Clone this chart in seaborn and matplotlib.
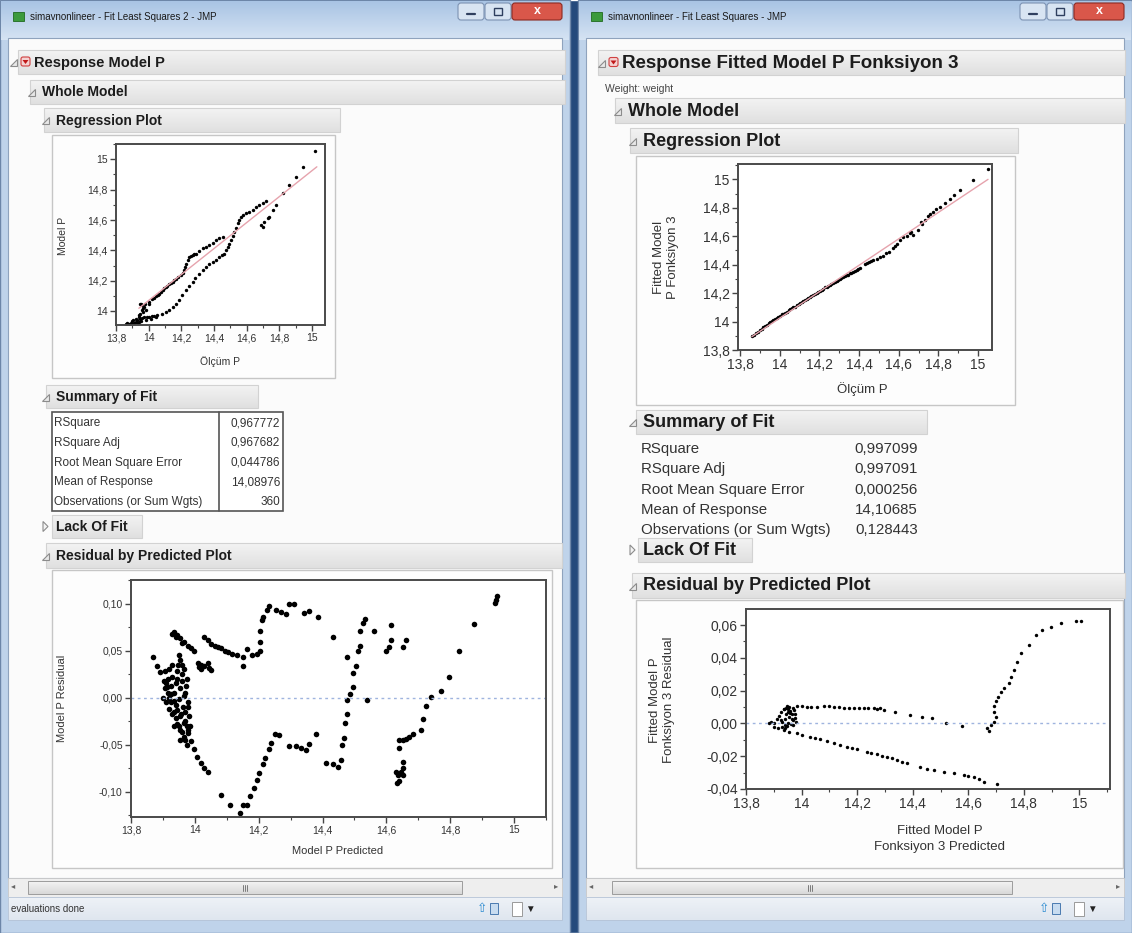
import numpy as np
import seaborn as sns
import matplotlib.pyplot as plt
from matplotlib.colors import to_rgb
from matplotlib.patches import Rectangle, Polygon, FancyBboxPatch
from matplotlib.ticker import MultipleLocator, FuncFormatter

W, H = 1132, 933

# ---- left window: Regression Plot (Model P vs Ölçüm P)
reg1_x = [13.861, 13.892, 13.922, 13.953, 13.984, 14.014, 14.045, 13.943, 13.963, 13.973,
          13.953, 13.984, 13.922, 13.902, 13.943, 14.004,
          13.870, 13.880, 13.910, 13.930, 13.950, 13.960, 13.970, 13.990, 14.000, 14.020,
          14.030, 13.940, 13.950, 13.960, 13.965, 13.945, 13.935, 13.900,
          14.004, 14.045, 14.086, 14.127, 14.167, 14.198, 14.229, 14.249, 14.290, 14.331,
          14.371, 14.412, 14.453, 14.065, 14.106, 14.147, 14.218, 14.269, 14.310, 14.351,
          14.392, 14.433,
          13.960, 13.975, 14.020, 14.035, 14.055, 14.075, 14.095, 14.115, 14.135, 14.155,
          14.178, 14.210, 14.220, 14.240, 14.260, 14.280,
          14.106, 14.147, 14.188, 14.229, 14.269, 14.310, 14.351, 14.392, 14.433, 14.463,
          14.484, 14.504, 14.524, 14.545, 14.565, 14.596, 14.637, 14.678, 14.718,
          14.050, 14.080, 14.125, 14.165, 14.205, 14.245, 14.285, 14.330, 14.370, 14.410,
          14.450, 14.475, 14.495, 14.515, 14.535, 14.555, 14.580, 14.615, 14.655, 14.700,
          14.688, 14.708, 14.739, 14.759, 14.780, 14.698, 14.729,
          14.820, 14.861, 14.902, 14.943, 15.020]
reg1_y = [13.914, 13.923, 13.930, 13.936, 13.945, 13.952, 13.963, 13.963, 13.996, 14.029,
          14.051, 14.007, 13.952, 13.941, 13.930, 14.051,
          13.920, 13.915, 13.925, 13.940, 13.950, 13.955, 13.960, 13.960, 13.965, 13.967,
          13.970, 13.975, 13.985, 14.010, 14.020, 14.045, 13.920, 13.935,
          14.062, 14.101, 14.138, 14.178, 14.215, 14.237, 14.314, 14.358, 14.380, 14.413,
          14.435, 14.468, 14.486, 14.116, 14.160, 14.193, 14.270, 14.369, 14.398, 14.424,
          14.446, 14.479,
          14.040, 14.050, 14.080, 14.090, 14.110, 14.125, 14.150, 14.168, 14.185, 14.205,
          14.225, 14.250, 14.290, 14.335, 14.365, 14.375,
          13.996, 14.029, 14.073, 14.138, 14.193, 14.248, 14.292, 14.325, 14.358, 14.380,
          14.424, 14.468, 14.523, 14.578, 14.618, 14.644, 14.666, 14.699, 14.727,
          13.975, 13.985, 14.010, 14.050, 14.105, 14.165, 14.220, 14.270, 14.310, 14.340,
          14.370, 14.400, 14.445, 14.495, 14.550, 14.600, 14.632, 14.655, 14.683, 14.715,
          14.567, 14.589, 14.622, 14.666, 14.699, 14.556, 14.611,
          14.776, 14.831, 14.886, 14.952, 15.051]
fit1_x = [13.94, 15.03]
fit1_y = [14.02, 14.95]

# ---- left window: Residual by Predicted
res1_pred = [13.870, 13.883, 13.892, 13.902, 13.913, 13.924, 13.934, 13.945, 13.955, 13.966,
             13.977, 13.987, 13.998, 14.008, 14.019, 14.030, 14.040,
             13.934, 13.945, 13.955, 13.966, 13.977, 13.987, 13.998, 13.930, 13.940, 13.960,
             13.905, 13.915, 13.920, 13.925, 13.930, 13.935, 13.940, 13.942, 13.945, 13.948,
             13.950, 13.952, 13.955, 13.958, 13.960, 13.962, 13.965, 13.968, 13.970, 13.972,
             13.975, 13.978, 13.980, 13.982, 13.935, 13.925, 13.915, 13.945, 13.955, 13.965,
             13.900, 13.910, 13.920, 13.930, 13.940, 13.950, 13.960, 13.970, 13.975, 13.960,
             13.970, 13.975, 13.980, 13.985, 13.930, 13.950, 13.960, 13.945, 13.935, 13.920,
             13.910, 13.905, 13.955, 13.965,
             14.009, 14.019, 14.030, 14.040, 14.045, 14.050, 14.020, 14.014,
             14.030, 14.040, 14.051, 14.062, 14.072, 14.083, 14.093, 14.104, 14.115, 14.131,
             14.152, 14.152, 14.162, 14.178, 14.194, 14.205, 14.205, 14.205, 14.210, 14.215,
             14.226, 14.231, 14.253, 14.269, 14.285, 14.295, 14.311, 14.343, 14.359, 14.385,
             14.433,
             14.083, 14.109, 14.141, 14.152, 14.162, 14.173, 14.184, 14.194, 14.202, 14.212,
             14.221, 14.231, 14.240, 14.250, 14.265, 14.295, 14.316, 14.332, 14.348, 14.359,
             14.378, 14.412, 14.433, 14.449, 14.459, 14.461, 14.468, 14.470, 14.477, 14.477,
             14.486, 14.495, 14.495, 14.505, 14.511, 14.516, 14.477, 14.518, 14.527, 14.534,
             14.539, 14.560, 14.598, 14.608, 14.616, 14.616, 14.651, 14.662,
             14.630, 14.635, 14.645, 14.651, 14.641, 14.633, 14.651, 14.651, 14.640, 14.640,
             14.651, 14.662, 14.672, 14.683,
             14.707, 14.714, 14.725, 14.741, 14.771, 14.797, 14.826, 14.874, 14.941, 14.945,
             14.943]
res1_resid = [0.043, 0.034, 0.027, 0.018, 0.011, 0.004, -0.004, -0.013, -0.020, -0.027,
              -0.038, -0.046, -0.055, -0.063, -0.070, -0.075, -0.079,
              0.070, 0.066, 0.063, 0.059, 0.055, 0.053, 0.050, 0.068, 0.064, 0.058,
              0.028, 0.020, 0.030, 0.012, 0.022, 0.005, 0.015, -0.008, 0.028, 0.035,
              -0.002, 0.040, 0.010, -0.018, 0.025, -0.010, 0.002, -0.025, -0.015, 0.012,
              -0.030, -0.005, -0.035, -0.020, -0.015, -0.005, 0.005, -0.028, -0.035, -0.042,
              0.000, -0.005, -0.012, -0.018, -0.022, -0.030, -0.037, -0.045, -0.050, 0.018,
              0.005, 0.020, -0.010, -0.030, 0.035, 0.045, 0.035, 0.020, -0.030, 0.000,
              0.015, 0.010, -0.045, 0.030,
              0.037, 0.035, 0.034, 0.037, 0.031, 0.029, 0.030, 0.032,
              0.064, 0.061, 0.057, 0.055, 0.054, 0.053, 0.050, 0.048, 0.046, 0.045,
              0.034, 0.043, 0.052, 0.045, 0.046, 0.050, 0.059, 0.071, 0.082, 0.086,
              0.093, 0.097, 0.093, 0.091, 0.089, 0.099, 0.099, 0.090, 0.092, 0.086,
              0.064,
              -0.104, -0.114, -0.123, -0.114, -0.114, -0.105, -0.096, -0.088, -0.080, -0.071,
              -0.064, -0.055, -0.048, -0.039, -0.040, -0.051, -0.052, -0.054, -0.056, -0.049,
              -0.039, -0.070, -0.071, -0.074, -0.066, -0.050, -0.043, -0.027, -0.018, -0.003,
              0.004, 0.011, 0.026, 0.034, 0.050, 0.055, 0.043, 0.071, 0.079, 0.083,
              -0.003, 0.071, 0.050, 0.054, 0.061, 0.077, 0.054, 0.061,
              -0.079, -0.082, -0.079, -0.082, -0.089, -0.091, -0.068, -0.075, -0.054, -0.045,
              -0.045, -0.044, -0.042, -0.039,
              -0.034, -0.023, -0.009, 0.001, 0.007, 0.022, 0.050, 0.078, 0.101, 0.108,
              0.104]

# ---- right window: Regression Plot (Fitted Model P Fonksiyon 3 vs Ölçüm P)
reg2_x = [13.859, 13.880, 13.901, 13.918, 13.934, 13.951, 13.968, 13.985, 14.001, 14.018,
          14.035, 14.052, 14.069, 14.085, 14.102, 14.119, 14.136, 14.152, 14.169, 14.186,
          14.203, 14.220, 14.236, 14.253, 14.270, 14.287, 14.304, 14.320, 14.337, 14.354,
          14.371, 14.388, 14.404, 14.429, 14.450, 14.471, 14.505, 14.538, 14.572, 14.589,
          14.606, 14.622, 14.656, 14.673, 14.698, 14.715, 14.731, 14.748, 14.773, 14.807,
          14.832, 14.857, 14.879, 14.908, 14.972, 15.050,
          13.870, 13.890, 13.910, 13.925, 13.945, 13.960, 13.975, 13.990, 14.010, 14.025,
          14.045, 14.060, 14.075, 14.095, 14.110, 14.130, 14.145, 14.160, 14.180, 14.195,
          14.215, 14.230, 14.245, 14.260, 14.280, 14.295, 14.310, 14.330, 14.345, 14.360,
          14.380, 14.395, 14.440, 14.460, 14.490, 14.520, 14.550, 14.580, 14.640, 14.660,
          14.710, 14.760, 14.790]
reg2_y = [13.898, 13.920, 13.941, 13.960, 13.976, 13.994, 14.011, 14.027, 14.041, 14.056,
          14.070, 14.085, 14.100, 14.117, 14.133, 14.146, 14.159, 14.173, 14.187, 14.201,
          14.215, 14.231, 14.245, 14.259, 14.273, 14.286, 14.299, 14.312, 14.325, 14.338,
          14.351, 14.362, 14.374, 14.402, 14.416, 14.433, 14.452, 14.480, 14.515, 14.545,
          14.573, 14.592, 14.620, 14.609, 14.644, 14.686, 14.714, 14.742, 14.773, 14.808,
          14.836, 14.859, 14.890, 14.925, 14.995, 15.070,
          13.905, 13.930, 13.950, 13.970, 13.990, 14.005, 14.020, 14.035, 14.050, 14.060,
          14.078, 14.093, 14.105, 14.125, 14.140, 14.155, 14.166, 14.180, 14.195, 14.210,
          14.225, 14.240, 14.252, 14.265, 14.280, 14.293, 14.305, 14.320, 14.330, 14.345,
          14.356, 14.370, 14.410, 14.425, 14.440, 14.460, 14.490, 14.530, 14.600, 14.630,
          14.700, 14.755, 14.790]
fit2_x = [13.86, 15.05]
fit2_y = [13.894, 15.00]

# ---- right window: Residual by Predicted
res2_pred = [13.882, 13.890, 13.900, 13.912, 13.920, 13.926, 13.930, 13.936, 13.940, 13.945,
             13.948, 13.952, 13.955, 13.958, 13.962, 13.965, 13.968, 13.972, 13.975, 13.930,
             13.940, 13.925,
             13.935, 13.945, 13.955, 13.960, 13.970, 13.965, 13.950, 13.940, 13.975, 13.980,
             13.970, 13.950,
             13.948, 13.984, 14.020, 14.056, 14.080, 14.116, 14.152, 14.188, 14.224, 14.260,
             14.284, 14.296, 14.338, 14.392, 14.434, 14.470, 14.518, 14.578,
             14.000, 14.035, 14.100, 14.135, 14.170, 14.205, 14.240, 14.270,
             13.900, 13.936, 13.984, 14.032, 14.068, 14.116, 14.164, 14.200, 14.236, 14.272,
             14.308, 14.344, 14.380, 14.428, 14.476, 14.512, 14.548, 14.584, 14.620, 14.656,
             14.704,
             13.915, 13.955, 14.000, 14.050, 14.090, 14.140, 14.180, 14.250, 14.290, 14.325,
             14.360, 14.450, 14.600, 14.640,
             14.668, 14.674, 14.680, 14.692, 14.698, 14.692, 14.692, 14.698, 14.706, 14.718,
             14.730, 14.746, 14.755, 14.764, 14.774, 14.790, 14.818, 14.845, 14.867, 14.896,
             14.932, 14.986, 15.004]
res2_resid = [0.0004, 0.0010, 0.0004, 0.0025, 0.0045, 0.0070, 0.0010, 0.0085, 0.0030, 0.0060,
              -0.0015, 0.0090, 0.0040, 0.0075, -0.0005, 0.0055, 0.0020, 0.0080, 0.0035, -0.0020,
              -0.0030, 0.0020,
              0.0090, 0.0095, 0.0100, 0.0065, 0.0095, 0.0025, 0.0005, -0.0010, 0.0060, 0.0010,
              -0.0010, 0.0070,
              0.0106, 0.0106, 0.0098, 0.0102, 0.0108, 0.0102, 0.0096, 0.0092, 0.0092, 0.0092,
              0.0092, 0.0082, 0.0071, 0.0051, 0.0037, 0.0031, 0.0004, -0.0016,
              0.0104, 0.0100, 0.0105, 0.0099, 0.0094, 0.0092, 0.0093, 0.0090,
              -0.0020, -0.0040, -0.0061, -0.0081, -0.0097, -0.0122, -0.0142, -0.0158, -0.0176, -0.0189,
              -0.0203, -0.0223, -0.0243, -0.0264, -0.0284, -0.0294, -0.0304, -0.0315, -0.0329, -0.0355,
              -0.0372,
              -0.0030, -0.0050, -0.0068, -0.0088, -0.0108, -0.0132, -0.0150, -0.0180, -0.0196, -0.0213,
              -0.0233, -0.0275, -0.0320, -0.0340,
              -0.0030, -0.0044, -0.0010, 0.0010, 0.0041, 0.0071, 0.0106, 0.0137, 0.0163, 0.0190,
              0.0218, 0.0248, 0.0285, 0.0326, 0.0374, 0.0427, 0.0478, 0.0539, 0.0570, 0.0590,
              0.0615, 0.0625, 0.0625]

summary_labels = ['RSquare', 'RSquare Adj', 'Root Mean Square Error', 'Mean of Response',
                  'Observations (or Sum Wgts)']
summary1_values = ['0,967772', '0,967682', '0,044786', '14,08976', '360']
summary2_values = ['0,997099', '0,997091', '0,000256', '14,10685', '0,128443']

sns.set_style('white')
plt.rcParams['font.family'] = ['Liberation Sans', 'DejaVu Sans']

fig = plt.figure(figsize=(W / 100, H / 100), dpi=100)
bg = fig.add_axes([0, 0, 1, 1])
bg.axis('off')


def box(x0, y0, x1, y1, fc, ec='none', lw=1, z=2):
    bg.add_patch(Rectangle((x0, y0), x1 - x0, y1 - y0, fc=fc, ec=ec, lw=lw, zorder=z))


def grad(x0, y0, x1, y1, c0, c1, z=1):
    t = np.linspace(0, 1, 32)[:, None, None]
    img = np.array(to_rgb(c0)) * (1 - t) + np.array(to_rgb(c1)) * t
    bg.imshow(img, extent=(x0, x1, y1, y0), aspect='auto', zorder=z, interpolation='bilinear')


def header(x0, y0, x1, y1, text, fs, tx, opened=True, red=False):
    grad(x0, y0, x1, y1, '#f3f3f3', '#e0e0e0', z=3)
    box(x0, y0, x1, y1, 'none', '#d2d2d2', 0.8, z=4)
    m = (y0 + y1) / 2
    tri = tx - 14 if not red else tx - 24
    if opened:
        bg.add_patch(Polygon([(tri + 7, m - 3), (tri + 7, m + 4), (tri, m + 4)], closed=True,
                             fc='#e8e8e8', ec='#8c8c8c', lw=0.8, zorder=5))
    else:
        bg.add_patch(Polygon([(tri + 1, m - 5), (tri + 1, m + 5), (tri + 6, m)], closed=True,
                             fc='#f4f4f4', ec='#8c8c8c', lw=0.8, zorder=5))
    if red:
        bg.add_patch(FancyBboxPatch((tx - 13, m - 5), 9, 9, boxstyle='round,pad=0,rounding_size=2',
                                    fc='#f4d2d2', ec='#d04040', lw=0.8, zorder=5))
        bg.add_patch(Polygon([(tx - 11.5, m - 2), (tx - 5.5, m - 2), (tx - 8.5, m + 2)],
                             closed=True, fc='#c01818', ec='none', zorder=6))
    bg.text(tx, m + 0.5, text, fontsize=fs, fontweight='bold', color='#1c1c1c',
            va='center', ha='left', zorder=6)


def window(x0, x1, title):
    box(x0, 0, x1, H, '#bfd3ea', '#6d86a8', 1.0, z=1)
    grad(x0 + 1, 1, x1 - 1, 40, '#a9c4e4', '#d5e3f3', z=1.5)
    box(x0 + 8, 38, x1 - 8, 878, '#fbfbfb', '#8fa3bd', 0.8, z=2)
    bg.add_patch(Rectangle((x0 + 13, 12), 11, 9, fc='#3c9a3c', ec='#1f6a1f', lw=0.6, zorder=3))
    bg.text(x0 + 30, 17, title, fontsize=7, color='#1a1a1a', va='center', zorder=3)
    bx = x1 - 112
    for i, w in enumerate([27, 27]):
        bg.add_patch(FancyBboxPatch((bx + i * 27, 3), w - 1, 17, boxstyle='round,pad=0,rounding_size=3',
                                    fc='#d8e4f2', ec='#7d93b3', lw=0.8, zorder=3))
    bg.plot([bx + 9, bx + 17], [14, 14], color='#2f3f5f', lw=1.6, zorder=4)
    bg.add_patch(Rectangle((bx + 36, 8), 8, 7, fc='none', ec='#2f3f5f', lw=1.0, zorder=4))
    bg.add_patch(FancyBboxPatch((bx + 54, 3), 50, 17, boxstyle='round,pad=0,rounding_size=3',
                                fc='#d9574a', ec='#8c2a22', lw=0.8, zorder=3))
    bg.text(bx + 79, 11.5, 'x', fontsize=9, fontweight='bold', color='white', ha='center',
            va='center', zorder=4)
    # scrollbar
    box(x0 + 8, 878, x1 - 8, 897, '#eeeeee', '#c9c9c9', 0.6, z=2)
    bg.text(x0 + 13, 887, '◂', fontsize=6, color='#666666', va='center', ha='center', zorder=3)
    bg.text(x1 - 14, 887, '▸', fontsize=6, color='#666666', va='center', ha='center', zorder=3)
    # status bar
    grad(x0 + 8, 897, x1 - 8, 920, '#eef2f7', '#dfe6ef', z=2)
    box(x0 + 8, 897, x1 - 8, 920, 'none', '#b5c3d6', 0.6, z=3)
    ix = x1 - 88
    bg.text(ix, 909, '⇧', fontsize=9, color='#2a8ad0', va='center', ha='center', zorder=4)
    bg.add_patch(Rectangle((ix + 8, 903), 8, 11, fc='#c8dcf0', ec='#4a7ab0', lw=0.7, zorder=4))
    bg.add_patch(Rectangle((ix + 30, 902), 10, 14, fc='white', ec='#9a9a9a', lw=0.7, zorder=4))
    bg.text(ix + 48, 909, '▼', fontsize=7, color='#222222', va='center', ha='center', zorder=4)


def thumb(x0, x1, gx):
    grad(x0, 881, x1, 894, '#f4f4f4', '#d9d9d9', z=3)
    box(x0, 881, x1, 894, 'none', '#9c9c9c', 0.7, z=4)
    for d in (-2, 0, 2):
        bg.plot([gx + d, gx + d], [884.5, 890.5], color='#7a7a7a', lw=0.7, zorder=5)


def panel(x0, y0, x1, y1):
    box(x0, y0, x1, y1, '#fdfdfd', '#c6c6c6', 1.0, z=3)


def pix_ax(x0, y0, x1, y1):
    return fig.add_axes([x0 / W, 1 - y1 / H, (x1 - x0) / W, (y1 - y0) / H])


def comma(fmt):
    if fmt == 'g':
        return FuncFormatter(lambda v, p: f'{round(v, 3):g}'.replace('.', ','))
    return FuncFormatter(lambda v, p: f'{v:{fmt}}'.replace('.', ',').replace('-0,00', '0,00'))


def style_ax(ax, xlim, ylim, xmaj, xmin, ymaj, ymin, yfmt, fs):
    ax.set_xlim(*xlim)
    ax.set_ylim(*ylim)
    ax.xaxis.set_major_locator(MultipleLocator(xmaj))
    ax.xaxis.set_minor_locator(MultipleLocator(xmin))
    ax.yaxis.set_major_locator(MultipleLocator(ymaj))
    ax.yaxis.set_minor_locator(MultipleLocator(ymin))
    ax.xaxis.set_major_formatter(comma('g'))
    ax.yaxis.set_major_formatter(comma(yfmt))
    ax.tick_params(which='major', direction='out', length=4, width=1, color='#444444',
                   labelsize=fs, labelcolor='#333333', pad=2, bottom=True, left=True)
    ax.tick_params(which='minor', direction='out', length=2.5, width=0.8, color='#444444',
                   bottom=True, left=True)
    for s in ax.spines.values():
        s.set_color('#4a4a4a')
        s.set_linewidth(1.4)
    ax.set_xlabel('')
    ax.set_ylabel('')


bg.add_patch(Rectangle((0, 0), W, H, fc='#254a7c', zorder=0))
window(0, 570, 'simavnonlineer - Fit Least Squares 2 - JMP')
window(578, W, 'simavnonlineer - Fit Least Squares - JMP')
thumb(28, 462, 245)
thumb(612, 1012, 810)
bg.text(11, 909, 'evaluations done', fontsize=7, color='#333333', va='center', zorder=4)

# ---- left window report
header(18, 50, 565, 74, 'Response Model P', 10.5, 34, red=True)
header(30, 80, 565, 104, 'Whole Model', 10, 42)
header(44, 108, 340, 132, 'Regression Plot', 10, 56)
panel(52, 135, 335, 378)
header(46, 385, 258, 408, 'Summary of Fit', 10, 56)
box(52, 412, 283, 511, 'white', '#555555', 1.2, z=3)
bg.plot([219, 219], [412, 511], color='#555555', lw=1.2, zorder=4)
for i, (lab, val) in enumerate(zip(summary_labels, summary1_values)):
    y = 423 + i * 19.8
    bg.text(54, y, lab, fontsize=8.5, color='#333333', va='center', zorder=5)
    bg.text(280, y, val, fontsize=8.5, color='#333333', va='center', ha='right', zorder=5)
header(52, 515, 142, 538, 'Lack Of Fit', 10, 56, opened=False)
header(46, 543, 562, 568, 'Residual by Predicted Plot', 10, 56)
panel(52, 570, 552, 868)

# ---- right window report
header(598, 50, 1125, 75, 'Response Fitted Model P Fonksiyon 3', 13.5, 622, red=True)
bg.text(605, 89, 'Weight: weight', fontsize=7.5, color='#444444', va='center', zorder=4)
header(615, 98, 1125, 123, 'Whole Model', 13, 628)
header(630, 128, 1018, 153, 'Regression Plot', 13, 643)
panel(636, 156, 1015, 405)
header(636, 410, 927, 434, 'Summary of Fit', 13, 643)
for i, (lab, val) in enumerate(zip(summary_labels, summary2_values)):
    y = 449 + i * 20.3
    bg.text(641, y, lab, fontsize=10.8, color='#333333', va='center', zorder=5)
    bg.text(918, y, val, fontsize=10.8, color='#333333', va='center', ha='right', zorder=5)
header(638, 538, 752, 562, 'Lack Of Fit', 13, 643, opened=False)
header(632, 573, 1125, 598, 'Residual by Predicted Plot', 13, 643)
panel(636, 600, 1123, 868)

bg.set_xlim(0, W)
bg.set_ylim(H, 0)

# axis titles
bg.text(220, 362, 'Ölçüm P', fontsize=7.5, color='#333333', ha='center', va='center', zorder=5)
bg.text(63, 236, 'Model P', fontsize=7.5, color='#333333', ha='center', va='center',
        rotation=90, zorder=5)
bg.text(338, 851, 'Model P Predicted', fontsize=8, color='#333333', ha='center',
        va='center', zorder=5)
bg.text(62, 698, 'Model P Residual', fontsize=8, color='#333333', ha='center', va='center',
        rotation=90, zorder=5)
bg.text(862, 389, 'Ölçüm P', fontsize=9.5, color='#333333', ha='center', va='center', zorder=5)
bg.text(666, 257, 'Fitted Model\nP Fonksiyon 3', fontsize=9.5, color='#333333', ha='center',
        va='center', rotation=90, linespacing=1.2, zorder=5)
bg.text(940, 839, 'Fitted Model P\nFonksiyon 3 Predicted', fontsize=9.5, color='#333333',
        ha='center', va='center', linespacing=1.35, zorder=5)
bg.text(662, 700, 'Fitted Model P\nFonksiyon 3 Residual', fontsize=9.5, color='#333333',
        ha='center', va='center', rotation=90, linespacing=1.2, zorder=5)

# ---- plots
ax1 = pix_ax(116, 144, 325, 325)
sns.lineplot(x=fit1_x, y=fit1_y, ax=ax1, color='#e6a3ad', lw=1)
sns.scatterplot(x=reg1_x, y=reg1_y, ax=ax1, color='black', s=6, linewidth=0)
style_ax(ax1, (13.80, 15.08), (13.91, 15.10), 0.2, 0.1, 0.2, 0.1, 'g', 7.5)

ax2 = pix_ax(131, 580, 546, 817)
ax2.axhline(0, color='#9fb4df', lw=1, ls=(0, (2, 2.5)))
sns.scatterplot(x=res1_pred, y=res1_resid, ax=ax2, color='black', s=16, linewidth=0)
style_ax(ax2, (13.80, 15.10), (-0.127, 0.125), 0.2, 0.1, 0.05, 0.025, '.2f', 7.5)

ax3 = pix_ax(738, 164, 992, 350)
sns.lineplot(x=fit2_x, y=fit2_y, ax=ax3, color='#e6a3ad', lw=1)
sns.scatterplot(x=reg2_x, y=reg2_y, ax=ax3, color='black', s=6, linewidth=0)
style_ax(ax3, (13.79, 15.07), (13.80, 15.108), 0.2, 0.1, 0.2, 0.1, 'g', 10)

ax4 = pix_ax(746, 609, 1110, 789)
ax4.axhline(0, color='#9fb4df', lw=1, ls=(0, (2, 2.5)))
sns.scatterplot(x=res2_pred, y=res2_resid, ax=ax4, color='black', s=6, linewidth=0)
style_ax(ax4, (13.80, 15.11), (-0.04, 0.0698), 0.2, 0.1, 0.02, 0.01, '.2f', 10)

fig.savefig('out.png', dpi=100)
